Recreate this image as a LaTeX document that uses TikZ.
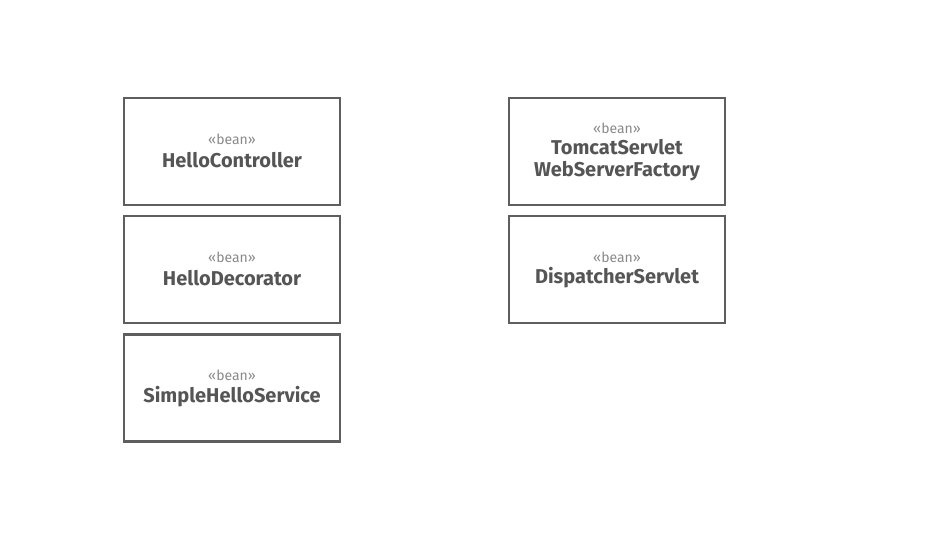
\documentclass[tikz,border=0pt]{standalone}
\usepackage{fontspec}
\setmainfont{Fira Sans}
\definecolor{boxline}{HTML}{5E5E5E}
\definecolor{nametext}{HTML}{555555}
\definecolor{stereo}{HTML}{8A8A8A}
\tikzset{
  beanbox/.style={draw=boxline, line width=2.2pt, fill=white, minimum width=216pt, minimum height=107pt, inner sep=0pt},
  beanname/.style={text=nametext, font=\fontsize{20}{22}\selectfont\bfseries, align=center, inner sep=0pt},
  beanstereo/.style={text=stereo, font=\fontsize{14}{16}\selectfont, inner sep=0pt}
}
\begin{document}
\begin{tikzpicture}[x=1pt,y=-1pt]
\useasboundingbox (0,0) rectangle (950,546);
% left column
\node[beanbox] (hc) at (232,151.5) {};
\node[beanstereo] (hcs) at (232,139) {«bean»};
\node[beanname] (hcn) at (232,160) {HelloController};
\node[beanbox] (hd) at (232,269.5) {};
\node[beanstereo] (hds) at (232,257) {«bean»};
\node[beanname] (hdn) at (232,278) {HelloDecorator};
\node[beanbox] (sh) at (232,388) {};
\node[beanstereo] (shs) at (232,375.5) {«bean»};
\node[beanname] (shn) at (232,396.5) {SimpleHelloService};
% right column
\node[beanbox] (tf) at (617,151.5) {};
\node[beanstereo] (tfs) at (617,128) {«bean»};
\node[beanname] (tfn) at (617,160) {TomcatServlet\\WebServerFactory};
\node[beanbox] (ds) at (617,269.5) {};
\node[beanstereo] (dss) at (617,257) {«bean»};
\node[beanname] (dsn) at (617,278) {DispatcherServlet};
\end{tikzpicture}
\end{document}
